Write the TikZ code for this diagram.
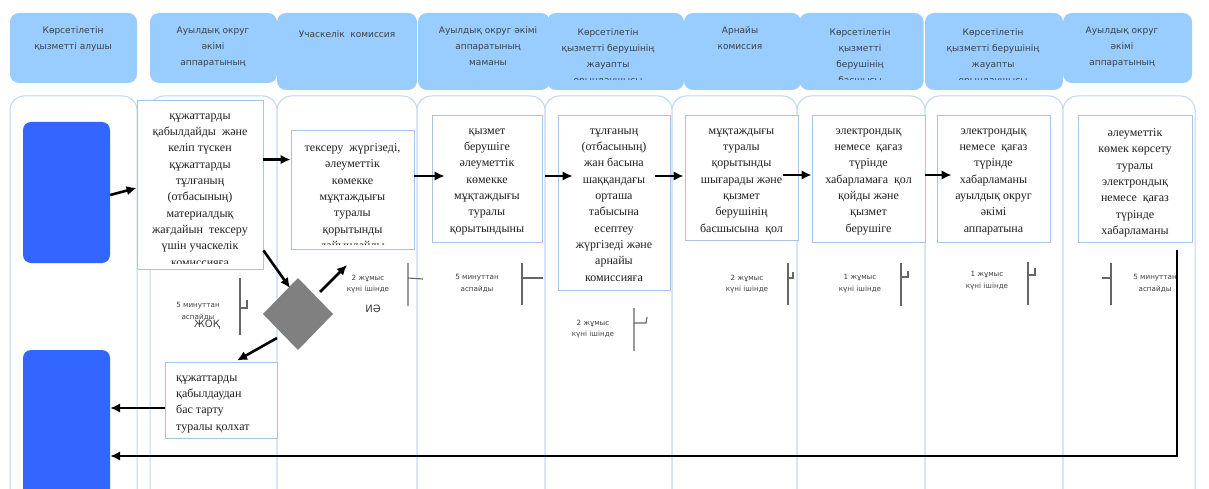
\documentclass[tikz,border=0pt]{standalone}
\usepackage{fontspec}
\setmainfont{Liberation Serif}
\newfontfamily\hdrfont{DejaVu Sans}
\usetikzlibrary{calc,arrows.meta}
\definecolor{hdrblue}{RGB}{153,204,255}
\definecolor{lanec}{RGB}{190,215,242}
\definecolor{boxc}{RGB}{165,195,228}
\definecolor{bblue}{RGB}{51,102,255}
\definecolor{dgray}{RGB}{128,128,128}
\definecolor{txtc}{RGB}{64,64,64}
\begin{document}
\begin{tikzpicture}[x=1pt,y=-1pt,
 hdr/.style={fill=hdrblue, draw=none, rounded corners=9pt, rectangle, inner sep=0},
 lane/.style={draw=lanec, line width=1pt, fill=white, rounded corners=14pt},
 task/.style={draw=boxc, line width=0.9pt, fill=white, rectangle, inner sep=0},
 bluebox/.style={fill=bblue, draw=none, rounded corners=8pt, rectangle, inner sep=0},
 htext/.style={font=\hdrfont\fontsize{9}{16}\selectfont, text=txtc, align=center, anchor=north, inner sep=0, execute at begin node=\strut},
 ttext/.style={font=\fontsize{12}{16.3}\selectfont, text=black!88, align=center, anchor=north, inner sep=0, execute at begin node=\strut},
 ann/.style={font=\hdrfont\fontsize{7.2}{11.5}\selectfont, text=txtc, align=center, anchor=north, inner sep=0, execute at begin node=\strut},
 big/.style={font=\hdrfont\fontsize{10}{12}\selectfont, text=txtc, anchor=base, inner sep=0},
 arr/.style={line width=2.6pt, -{Latex[length=10pt,width=9.5pt]}},
 brk/.style={draw=black!60, line width=1.1pt},
]
\useasboundingbox (0,0) rectangle (1209,489);
\clip (0,0) rectangle (1209,489);
\fill[white] (0,0) rectangle (1209,489);

% lanes
\foreach \a/\b in {10/137,150/277,277/417,417/545,545/672,672/797,797/925,925/1063,1063/1195}
  \draw[lane] (\a,96) rectangle (\b,510);

% headers
\node[hdr, minimum width=127, minimum height=70] (h1) at (73.5,48) {};
\node[hdr, minimum width=127, minimum height=70] (h2) at (213.5,48) {};
\node[hdr, minimum width=140, minimum height=77] (h3) at (347,51.5) {};
\node[hdr, minimum width=132, minimum height=77] (h4) at (484,51.5) {};
\node[hdr, minimum width=137, minimum height=77] (h5) at (615.5,51.5) {};
\node[hdr, minimum width=117, minimum height=77] (h6) at (742.5,51.5) {};
\node[hdr, minimum width=124, minimum height=77] (h7) at (861.5,51.5) {};
\node[hdr, minimum width=138, minimum height=77] (h8) at (994,51.5) {};
\node[hdr, minimum width=129, minimum height=70] (h9) at (1127.5,48) {};

\node[htext] (ht1) at (73,26.5) {Көрсетілетін\\қызметті алушы};
\node[htext] (ht2) at (213,26.5) {Ауылдық округ\\әкімі\\аппаратының};
\node[htext] (ht3) at (347,26.5) {Учаскелік\ \ комиссия};
\node[htext] (ht4) at (488,26.5) {Ауылдық округ әкімі\\аппаратының\\маманы};
\begin{scope}
\clip (540,13) rectangle (1070,79.5);
\node[htext] (ht5) at (608,28) {Көрсетілетін\\қызметті берушінің\\жауапты\\орындаушысы};
\node[htext] (ht7) at (860,28) {Көрсетілетін\\қызметті\\берушінің\\басшысы};
\node[htext] (ht8) at (993,28) {Көрсетілетін\\қызметті берушінің\\жауапты\\орындаушысы};
\end{scope}
\node[htext] (ht6) at (740,26.5) {Арнайы\\комиссия};
\node[htext] (ht9) at (1122,26.5) {Ауылдық округ\\әкімі\\аппаратының};

% blue boxes
\node[bluebox, minimum width=87, minimum height=141] (blueA) at (66.5,192.5) {};
\node[bluebox, minimum width=87, minimum height=160] (blueB) at (66.5,430) {};

% task boxes
\node[task, minimum width=126, minimum height=169] (box1) at (200,184.5) {};
\node[task, minimum width=123, minimum height=119] (box2) at (352.5,189.5) {};
\node[task, minimum width=110, minimum height=127] (box3) at (487,178.5) {};
\node[task, minimum width=112, minimum height=175] (box4) at (614,202.5) {};
\node[task, minimum width=113, minimum height=125] (box5) at (741.5,177.5) {};
\node[task, minimum width=113, minimum height=127] (box6) at (868.5,178.5) {};
\node[task, minimum width=113, minimum height=127] (box7) at (993.5,178.5) {};
\node[task, minimum width=114, minimum height=127] (box8) at (1135,178.5) {};
\node[task, minimum width=112, minimum height=76] (rej) at (221,400) {};

\begin{scope}
\clip (box1.north west) rectangle ($(box1.south east)+(0,-6)$);
\node[ttext] (t1) at (200,113.5) {құжаттарды\\қабылдайды\ \ және\\келіп түскен\\құжаттарды\\тұлғаның\\(отбасының)\\материалдық\\жағдайын\ \ тексеру\\үшін учаскелік\\комиссияға};
\end{scope}
\begin{scope}
\clip (box2.north west) rectangle ($(box2.south east)+(0,-5)$);
\node[ttext] (t2) at (352.5,143.5) {тексеру\ \ жүргізеді,\\әлеуметтік\\көмекке\\мұқтаждығы\\туралы\\қорытынды\\дайындайды};
\end{scope}
\node[ttext] (t3) at (487,128.5) {қызмет\\берушіге\\әлеуметтік\\көмекке\\мұқтаждығы\\туралы\\қорытындыны};
\node[ttext] (t4) at (614,128.5) {тұлғаның\\(отбасының)\\жан басына\\шаққандағы\\орташа\\табысына\\есептеу\\жүргізеді және\\арнайы\\комиссияға};
\node[ttext] (t5) at (741.5,128.5) {мұқтаждығы\\туралы\\қорытынды\\шығарады және\\қызмет\\берушінің\\басшысына\ \ қол};
\node[ttext] (t6) at (868.5,128.5) {электрондық\\немесе\ \ қағаз\\түрінде\\хабарламаға\ \ қол\\қойды және\\қызмет\\берушіге};
\node[ttext] (t7) at (993.5,128.5) {электрондық\\немесе\ \ қағаз\\түрінде\\хабарламаны\\ауылдық округ\\әкімі\\аппаратына};
\node[ttext] (t8) at (1135,128.5) {әлеуметтік\\көмек көрсету\\туралы\\электрондық\\немесе\ \ қағаз\\түрінде\\хабарламаны};
\node[ttext, align=left, anchor=north west] (t9) at (176,375.5) {құжаттарды\\қабылдаудан\\бас тарту\\туралы қолхат};

% decision
\coordinate (dia) at (298,314);
\coordinate (dia-n) at (298,278);
\coordinate (dia-w) at (263,314);
\fill[dgray] (dia-n) -- (333,314) -- (298,350) -- (dia-w) -- cycle;

% annotations
\node[ann] (n2) at (198,302.5) {5 минуттан\\аспайды};
\node[big] (no) at (207,327) {ЖОҚ};
\node[ann] (n3) at (368,274.5) {2 жұмыс\\күні ішінде};
\node[big] (yes) at (373,312) {ИӘ};
\node[ann] (n4) at (477,274.5) {5 минуттан\\аспайды};
\node[ann] (n5) at (593,319.5) {2 жұмыс\\күні ішінде};
\node[ann] (n6) at (747,274.5) {2 жұмыс\\күні ішінде};
\node[ann] (n7) at (860,274.5) {1 жұмыс\\күні ішінде};
\node[ann] (n8) at (987,271.5) {1 жұмыс\\күні ішінде};
\node[ann] (n9) at (1155,274.5) {5 минуттан\\аспайды};

\draw[brk] (240,278) -- (240,335) (240,308) -- (247,308) -- (247,300);
\draw[brk] (408,263) -- (408,306) (408,278) -- (423,279);
\draw[brk] (522,263) -- (522,305) (522,278) -- (543,278);
\draw[brk] (634,308) -- (634,351) (634,323) -- (646,323) -- (647,317);
\draw[brk] (788,263) -- (788,305) (788,278) -- (793,278) -- (793,272);
\draw[brk] (901,263) -- (901,306) (901,277) -- (908,277) -- (908,271);
\draw[brk] (1028,262) -- (1028,305) (1028,275) -- (1035,275) -- (1035,268);
\draw[brk] (1111,263) -- (1111,305) (1111,278) -- (1102,278);

% connectors
\draw[arr] ($(blueA.east)+(0,2.5)$) -- ($(box1.west)+(0,3.5)$);
\draw[arr] ($(box1.north east)+(0,60)$) -- ($(box2.north west)+(0,30)$);
\draw[arr] ($(box2.east)+(0,-13.5)$) -- ($(box3.west)+(13,-2.5)$);
\draw[arr] ($(box3.east)+(3,-2.5)$) -- ($(box4.west)+(15,-26.5)$);
\draw[arr] ($(box4.east)+(-15,-26.5)$) -- ($(box5.west)+(-1,-1.5)$);
\draw[arr] ($(box5.east)+(-15,-2.5)$) -- ($(box6.west)+(0,-3.5)$);
\draw[arr] ($(box6.east)+(0,-3.5)$) -- ($(box7.west)+(15,-3.5)$);
\draw[arr] ($(box1.south east)+(0,-19)$) -- ($(dia-n)+(-8,10)$);
\draw[arr] ($(dia-n)+(22,14)$) -- (347,265);
\draw[arr] ($(dia-w)+(14,24)$) -- ($(rej.north)+(16,-1)$);
\draw[arr] ($(rej.west)+(0,8)$) -- ($(blueB.east)+(0,-22)$);
\draw[arr] ($(box8.south)+(42,8)$) |- ($(blueB.east)+(0,26)$);
\end{tikzpicture}
\end{document}
